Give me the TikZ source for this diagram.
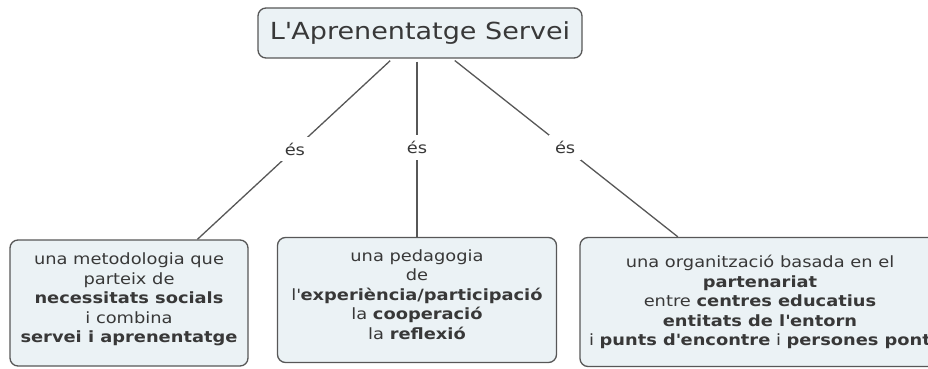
\documentclass[tikz,border=0pt]{standalone}
\usepackage{fontspec}
\setmainfont{DejaVu Sans}[FakeStretch=1.15]
\usepackage{xcolor}
\usetikzlibrary{positioning}
\definecolor{boxfill}{HTML}{EBF2F5}
\definecolor{boxline}{HTML}{575757}
\definecolor{textgray}{HTML}{383838}
\newcommand{\apos}{\textquotesingle}

\begin{document}
\begin{tikzpicture}[x=1pt,y=-1pt]
			\tikzstyle{every node} = [font = \fontsize{15.5}{19.5}\selectfont, text = textgray]
			\tikzstyle{concept} = [draw = boxline, fill = boxfill, line width = 1.3pt, rounded corners = 8pt, align = center, inner sep = 4pt]
			\tikzstyle{link} = [draw = boxline, line width = 1.3pt, shorten <= 3pt]
			\tikzstyle{linklabel} = [fill = white, inner sep = 6pt]
				\useasboundingbox (0,0) rectangle (928,369);
				\node[concept, minimum width = 324pt, minimum height = 50pt,
					font = \fontsize{23.5}{27}\selectfont] (title) at (420,33)
					{L\apos Aprenentatge Servei};
				\node[concept, minimum width = 238pt, minimum height = 126pt] (metod) at (129,303)
					{una metodologia que\\ parteix de\\ \textbf{necessitats socials}\\ i combina\\ \textbf{servei i aprenentatge}\\[-9.5pt]\mbox{}};
				\node[concept, minimum width = 279pt, minimum height = 125pt] (pedag) at (417,300)
					{una pedagogia\\ de\\ l\apos\textbf{experiència/participació}\\ la \textbf{cooperació}\\ la \textbf{reflexió}\\[-8pt]\mbox{}};
				\node[concept, minimum width = 360pt, minimum height = 129pt] (organ) at (760,302)
					{una organització basada en el\\ \textbf{partenariat}\\ entre \textbf{centres educatius}\\ \textbf{entitats de l\apos entorn}\\ i \textbf{punts d\apos encontre} i \textbf{persones pont}};
				\path[link] (title) -- node[linklabel] {és} (metod);
				\path[link] (title.south -| pedag.north) -- node[linklabel, pos = 0.5] {és} (pedag.north);
				\path[link] (title) -- node[linklabel] {és} (organ);
		\end{tikzpicture}
\end{document}
